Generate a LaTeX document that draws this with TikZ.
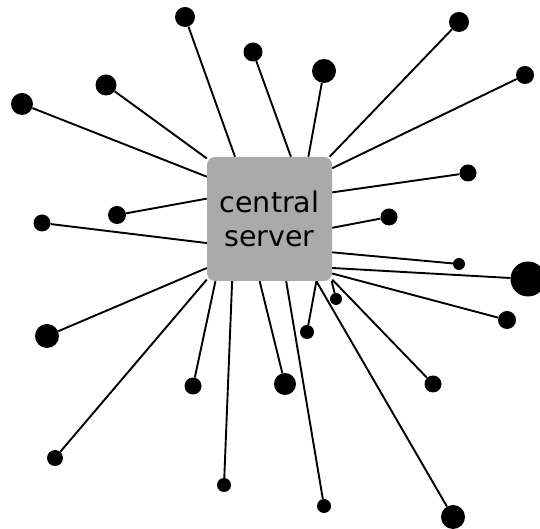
\documentclass[tikz,border=0pt]{standalone}
\usepackage{fontspec}
\setsansfont{DejaVu Sans}
\usepackage{tikz}
\usetikzlibrary{positioning}
\usetikzlibrary{backgrounds}
\usetikzlibrary{calc}

\definecolor{servergray}{HTML}{AAAAAA}

\begin{document}
\begin{tikzpicture}[x=1pt, y=1pt,
  hub/.style = {rectangle, rounded corners=8pt, fill=servergray, inner sep=0pt,
                minimum width=125pt, minimum height=124pt, align=center,
                font=\sffamily\fontsize{28.5}{34}\selectfont},
  client/.style = {circle, fill=black, inner sep=0pt, minimum size=#1},
  link/.style = {line width=1.9pt}]
\useasboundingbox (0,0) rectangle (540,529);

\node[hub] (server) at (269.5,310) {central\\server};

% clients above
\node[client=20pt] (client1) at (185,512) {};
\node[client=19pt] (client2) at (253,477) {};
\node[client=21pt] (client3) at (106,444) {};
\node[client=22pt] (client4) at (22,425) {};
\node[client=18pt] (client5) at (117,314) {};
\node[client=17pt] (client6) at (42,306) {};
\node[client=20pt] (client7) at (459,507) {};
\node[client=24pt] (client8) at (324,458) {};
\node[client=18pt] (client9) at (525,454) {};
\node[client=17pt] (client10) at (468,356) {};
\node[client=17pt] (client11) at (389,312) {};
\node[client=12pt] (client12) at (459,265) {};
\node[client=35pt] (client13) at (528,250) {};
% clients below
\node[client=18pt] (client14) at (507,209) {};
\node[client=12pt] (client15) at (336,230) {};
\node[client=14pt] (client16) at (307,197) {};
\node[client=17pt] (client17) at (433,145) {};
\node[client=24pt] (client18) at (453,12) {};
\node[client=22pt] (client19) at (285,145) {};
\node[client=14pt] (client20) at (324,23) {};
\node[client=24pt] (client21) at (47,193) {};
\node[client=16pt] (client22) at (55,71) {};
\node[client=17pt] (client23) at (193,143) {};
\node[client=14pt] (client24) at (224,44) {};

\begin{scope}[on background layer]
\draw[link] (client1) -- (server.119.1);
\draw[link] (client2) -- (server.71.7);
\draw[link] (client3) -- (server.136.7);
\draw[link] (client4) -- (server.146.1);
\draw[link] (client5) -- (server.162.3);
\draw[link] (client6) -- (server.201.0);
\draw[link] (client7) -- (server.46.7);
\draw[link] (client8) -- (server.58.8);
\draw[link] (client9) -- (server.39.2);
\draw[link] (client10) -- (server.23.4);
\draw[link] (client11) -- (server.352.7);
\draw[link] (client12) -- (server.332.2);
\draw[link] (client13) -- (server.322.5);
\draw[link] (client14) -- (server.319.7);
\draw[link] (client15) -- (server.315.2);
\draw[link] (client16) -- (server.307.0);
\draw[link] (client17) -- (server.316.7);
\draw[link] (client18) -- (server.307.0);
\draw[link] (client19) -- (server.261.3);
\draw[link] (client20) -- (server.285.8);
\draw[link] (client21) -- (server.218.7);
\draw[link] (client22) -- (server.224.8);
\draw[link] (client23) -- (server.229.2);
\draw[link] (client24) -- (server.239.5);
\end{scope}
\end{tikzpicture}
\end{document}
